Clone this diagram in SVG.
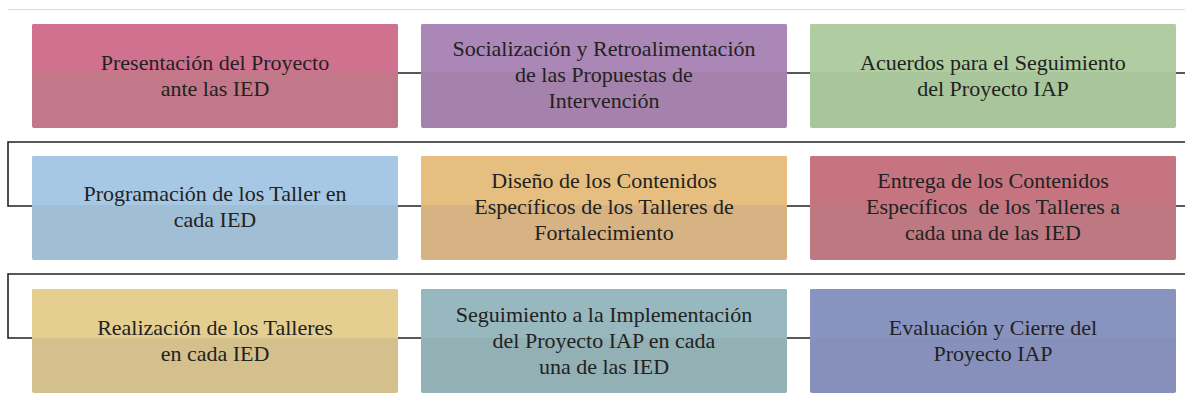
<svg xmlns="http://www.w3.org/2000/svg" width="1185" height="400" viewBox="0 0 1185 400">
<style>
.bg{fill:#ffffff}
.conn{fill:none;stroke:#222;stroke-width:1.6}
.lbl{font-family:'Liberation Serif','DejaVu Serif',serif;font-size:22px;fill:#222;text-anchor:middle}
</style>
<rect class="bg" x="0" y="0" width="1185" height="400"/>
<line x1="8" y1="9.5" x2="1185" y2="9.5" stroke="#dcdcdc" stroke-width="1"/>
<g id="connectors">
<path class="conn" d="M398 73H421M787 73H810M1176 73H1185"/>
<path class="conn" d="M1185 142H8V206H32"/>
<path class="conn" d="M398 206H421M787 206H810M1176 206H1185"/>
<path class="conn" d="M1185 274H8V338H32"/>
<path class="conn" d="M398 338H421M787 338H810"/>
</g>
<g font-family="Liberation Serif, DejaVu Serif, serif">
<g id="n1">
<rect x="32" y="24" width="366" height="104" rx="2" fill="#c27889"/>
<path d="M34 24H396A2 2 0 0 1 398 26V72H32V26A2 2 0 0 1 34 24Z" fill="#d0728f"/>
<text class="lbl" x="215" y="70">Presentación del Proyecto</text>
<text class="lbl" x="215" y="96">ante las IED</text>
</g>
<g id="n2">
<rect x="421" y="24" width="366" height="104" rx="2" fill="#a582ab"/>
<path d="M423 24H785A2 2 0 0 1 787 26V72H421V26A2 2 0 0 1 423 24Z" fill="#ab87b7"/>
<text class="lbl" x="604" y="56">Socialización y Retroalimentación</text>
<text class="lbl" x="604" y="82">de las Propuestas de</text>
<text class="lbl" x="604" y="108">Intervención</text>
</g>
<g id="n3">
<rect x="810" y="24" width="366" height="104" rx="2" fill="#a8c59b"/>
<path d="M812 24H1174A2 2 0 0 1 1176 26V72H810V26A2 2 0 0 1 812 24Z" fill="#afcda0"/>
<text class="lbl" x="993" y="70">Acuerdos para el Seguimiento</text>
<text class="lbl" x="993" y="96">del Proyecto IAP</text>
</g>
<g id="n4">
<rect x="32" y="156" width="366" height="104" rx="2" fill="#a0bed4"/>
<path d="M34 156H396A2 2 0 0 1 398 158V205H32V158A2 2 0 0 1 34 156Z" fill="#a6c8e4"/>
<text class="lbl" x="215" y="201">Programación de los Taller en</text>
<text class="lbl" x="215" y="227">cada IED</text>
</g>
<g id="n5">
<rect x="421" y="156" width="366" height="104" rx="2" fill="#d7b283"/>
<path d="M423 156H785A2 2 0 0 1 787 158V205H421V158A2 2 0 0 1 423 156Z" fill="#e6bf80"/>
<text class="lbl" x="604" y="188">Diseño de los Contenidos</text>
<text class="lbl" x="604" y="214">Específicos de los Talleres de</text>
<text class="lbl" x="604" y="240">Fortalecimiento</text>
</g>
<g id="n6">
<rect x="810" y="156" width="366" height="104" rx="2" fill="#bd7881"/>
<path d="M812 156H1174A2 2 0 0 1 1176 158V205H810V158A2 2 0 0 1 812 156Z" fill="#c6747f"/>
<text class="lbl" x="993" y="188">Entrega de los Contenidos</text>
<text class="lbl" x="993" y="214" xml:space="preserve">Específicos  de los Talleres a</text>
<text class="lbl" x="993" y="240">cada una de las IED</text>
</g>
<g id="n7">
<rect x="32" y="289" width="366" height="104" rx="2" fill="#d4c08c"/>
<path d="M34 289H396A2 2 0 0 1 398 291V338H32V291A2 2 0 0 1 34 289Z" fill="#e4cf90"/>
<text class="lbl" x="215" y="335">Realización de los Talleres</text>
<text class="lbl" x="215" y="361">en cada IED</text>
</g>
<g id="n8">
<rect x="421" y="289" width="366" height="104" rx="2" fill="#93b0b5"/>
<path d="M423 289H785A2 2 0 0 1 787 291V338H421V291A2 2 0 0 1 423 289Z" fill="#97b8be"/>
<text class="lbl" x="604" y="322">Seguimiento a la Implementación</text>
<text class="lbl" x="604" y="348">del Proyecto IAP en cada</text>
<text class="lbl" x="604" y="374">una de las IED</text>
</g>
<g id="n9">
<rect x="810" y="289" width="366" height="104" rx="2" fill="#8690ba"/>
<path d="M812 289H1174A2 2 0 0 1 1176 291V338H810V291A2 2 0 0 1 812 289Z" fill="#8993c0"/>
<text class="lbl" x="993" y="335">Evaluación y Cierre del</text>
<text class="lbl" x="993" y="361">Proyecto IAP</text>
</g>
</g>
</svg>
